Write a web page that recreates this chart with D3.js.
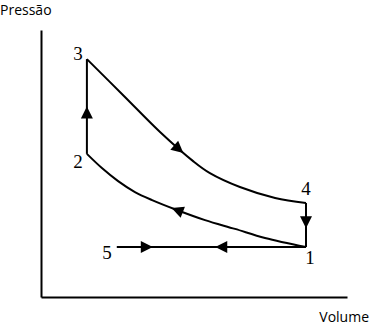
<!DOCTYPE html>
<html>
<head>
<meta charset="utf-8">
<script src="https://cdn.jsdelivr.net/npm/d3@7"></script>
<style>
  body { margin: 0; background: #fff; }
  svg { display: block; }
</style>
</head>
<body>
<div id="chart"></div>
<script>
const svgWidth = 371
const svgHeight = 327

// states of the cycle (volume, pressure on a 0-100 scale)
const stateNames = ["1", "2", "3", "4", "5"]
const stateVolume = [86.6, 15, 15, 86.6, 24.8]
const statePressure = [18.7, 53.6, 89.1, 35.2, 18.7]

// expansion curve 3 -> 4
const expVolume = [15, 27.1, 38.9, 49.7, 55.2, 65.0, 76.5, 86.6]
const expPressure = [89.1, 75.3, 61.8, 50.9, 46.4, 41.2, 37.1, 35.2]

// compression curve 1 -> 2
const compVolume = [86.6, 73.2, 63.4, 53.6, 44.4, 36.3, 30.7, 25.2, 19.9, 15]
const compPressure = [18.7, 22.1, 25.5, 28.8, 32.6, 36.3, 39.3, 43.4, 48.3, 53.6]

const axisLabels = ["Pressão", "Volume"]

const x = d3.scaleLinear().domain([0, 100]).range([41, 347])
const y = d3.scaleLinear().domain([0, 100]).range([297, 30])

const svg = d3.select("#chart").append("svg")
    .attr("width", svgWidth)
    .attr("height", svgHeight)

// axes, no ticks
svg.append("g")
    .attr("transform", `translate(0, ${y(0)})`)
    .call(d3.axisBottom(x).tickValues([]).tickSizeOuter(0))
    .select(".domain").attr("stroke-width", 2)

svg.append("g")
    .attr("transform", `translate(${x(0)}, 0)`)
    .call(d3.axisLeft(y).tickValues([]).tickSizeOuter(0))
    .select(".domain").attr("stroke-width", 2)

const st = i => [stateVolume[i], statePressure[i]]

const segments = [
    { pts: [st(4), st(0)], arrows: [0.19], curve: d3.curveLinear },
    { pts: [st(0), st(4)], arrows: [0.48], curve: d3.curveLinear },
    { pts: compVolume.map((v, i) => [v, compPressure[i]]), arrows: [0.58], curve: d3.curveCatmullRom },
    { pts: [st(1), st(2)], arrows: [0.5], curve: d3.curveLinear },
    { pts: expVolume.map((v, i) => [v, expPressure[i]]), arrows: [0.5], curve: d3.curveCatmullRom },
    { pts: [st(3), st(0)], arrows: [0.57], curve: d3.curveLinear }
]

segments.forEach(seg => {
    const line = d3.line().x(d => x(d[0])).y(d => y(d[1])).curve(seg.curve)
    const path = svg.append("path")
        .attr("d", line(seg.pts))
        .attr("fill", "none")
        .attr("stroke", "#000")
        .attr("stroke-width", 2)
    const node = path.node()
    const len = node.getTotalLength()
    seg.arrows.forEach(f => {
        const p = node.getPointAtLength(len * f)
        const q = node.getPointAtLength(Math.max(0, len * f - 2))
        const ang = Math.atan2(p.y - q.y, p.x - q.x) * 180 / Math.PI
        svg.append("path")
            .attr("d", "M0,0 L-12,-6 L-12,6 Z")
            .attr("fill", "#000")
            .attr("transform", `translate(${p.x}, ${p.y}) rotate(${ang})`)
    })
})

// state labels
const labelOffset = { "1": [4, 17], "2": [-9, 14], "3": [-9, 1], "4": [0, -8], "5": [-10, 12] }
svg.selectAll(".state")
    .data(stateNames)
    .enter()
    .append("text")
    .attr("x", (d, i) => x(stateVolume[i]) + labelOffset[d][0])
    .attr("y", (d, i) => y(statePressure[i]) + labelOffset[d][1])
    .attr("text-anchor", "middle")
    .attr("font-family", "Liberation Serif, serif")
    .attr("font-size", 19)
    .text(d => d)

svg.append("text")
    .attr("x", 0)
    .attr("y", 15)
    .attr("font-family", "Open Sans, sans-serif")
    .attr("font-size", 14)
    .text(axisLabels[0])

svg.append("text")
    .attr("x", 369)
    .attr("y", 322)
    .attr("text-anchor", "end")
    .attr("font-family", "Open Sans, sans-serif")
    .attr("font-size", 14)
    .text(axisLabels[1])
</script>
</body>
</html>
